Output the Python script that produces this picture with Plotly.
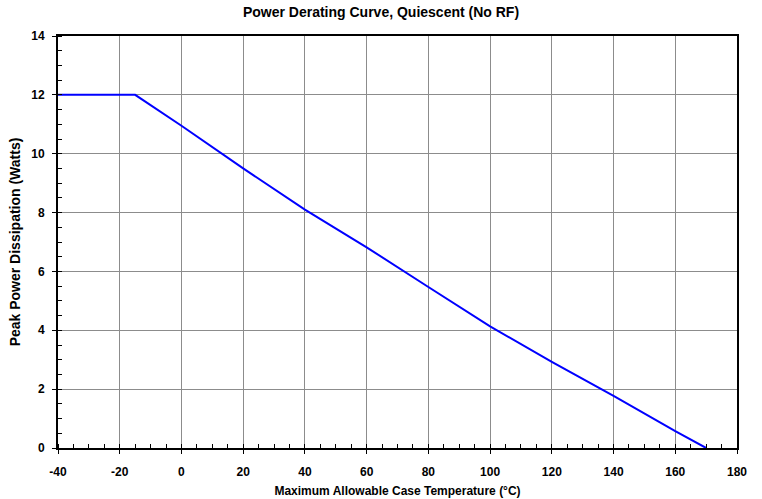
import plotly.graph_objects as go

# Derating curve: flat at max dissipation, then declining to zero at 170 °C
case_temp_c = [-40, -15, 0, 20, 40, 60, 80, 100, 120, 140, 160, 170]
power_w = [12, 12, 10.95, 9.5, 8.1, 6.82, 5.47, 4.13, 2.93, 1.77, 0.57, 0]

x_ticks = [-40, -20, 0, 20, 40, 60, 80, 100, 120, 140, 160, 180]
y_ticks = [0, 2, 4, 6, 8, 10, 12, 14]

font_family = "Liberation Sans, Arial, sans-serif"

fig = go.Figure()
fig.add_trace(go.Scatter(
    x=case_temp_c, y=power_w, mode="lines",
    line=dict(color="#0000FF", width=2),
    showlegend=False,
))

axis_common = dict(
    showline=True, linecolor="black", linewidth=2, mirror=True,
    showgrid=True, gridcolor="#8c8c8c", gridwidth=1,
    ticks="outside", ticklen=4, tickcolor="black", tickwidth=1,
    zeroline=False, automargin=False,
    tickfont=dict(family=font_family, size=12, color="black"),
)

fig.update_layout(
    width=762, height=499,
    margin=dict(l=58, r=25, t=36, b=51),
    paper_bgcolor="white", plot_bgcolor="white",
    title=dict(
        text="<b>Power Derating Curve, Quiescent (No RF)</b>",
        x=0.5, xanchor="center", y=0.975, yanchor="middle",
        font=dict(family=font_family, size=14, color="black"),
    ),
    xaxis=dict(
        **axis_common,
        range=[-40, 180], tickvals=x_ticks,
        ticktext=[f"<b>{v}</b>" for v in x_ticks],
        ticklabelstandoff=8,
        minor=dict(dtick=5, ticks="inside", ticklen=4, tickcolor="black", showgrid=False),
        title=dict(text="<b>Maximum Allowable Case Temperature (°C)</b>",
                   font=dict(family=font_family, size=12, color="black"), standoff=8),
    ),
    yaxis=dict(
        **axis_common,
        range=[0, 14], tickvals=y_ticks,
        ticktext=[f"<b>{v}</b>" for v in y_ticks],
        ticklabelstandoff=5,
        minor=dict(dtick=0.5, ticks="inside", ticklen=4, tickcolor="black", showgrid=False),
        title=dict(text="<b>Peak Power Dissipation (Watts)</b>",
                   font=dict(family=font_family, size=14, color="black"), standoff=7),
    ),
)

fig.write_html("out.html")
